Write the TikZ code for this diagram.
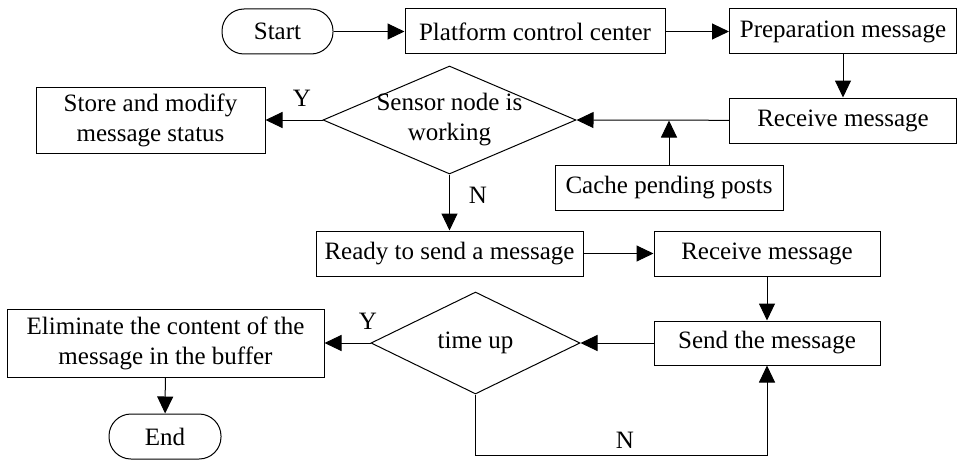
\documentclass[tikz,border=0pt]{standalone}
\usepackage{fontspec}
\setmainfont{Liberation Serif}
\usetikzlibrary{shapes.geometric,arrows.meta}
\begin{document}
\begin{tikzpicture}[x=1pt,y=-1pt,
  box/.style={draw, line width=1pt, inner sep=0pt, align=center, minimum height=45pt},
  term/.style={box, rounded corners=22pt},
  diam/.style={draw, line width=1pt, diamond, inner sep=0pt},
  arr/.style={line width=1pt, -{Triangle[length=17pt,width=16pt]}},
  lbl/.style={inner sep=0pt},
  font=\fontsize{25}{30}\selectfont]
\useasboundingbox (0,0) rectangle (958,460);
% row 1
\node[term, minimum width=111pt] (start) at (277.5,31.5) {Start};
\node[box, minimum width=260pt] (pcc) at (535,31.5) {Platform control center};
\node[box, minimum width=227pt] (prep) at (843,31.5) {Preparation message};
% row 2
\node[box, minimum width=227pt] (recv1) at (843,120.5) {Receive message};
\node[diam, minimum width=253pt, minimum height=108pt] (sensor) at (449.5,120) {};
\node[lbl, align=center] at (sensor.center) {Sensor node is\\working};
\node[box, minimum width=229pt, minimum height=66pt] (store) at (150.5,120) {Store and modify\\message status};
\node[box, minimum width=228pt] (cache) at (669,187.5) {Cache pending posts};
% row 3
\node[box, minimum width=267pt] (ready) at (449.5,253.5) {Ready to send a message};
\node[box, minimum width=226pt] (recv2) at (767,253.5) {Receive message};
% row 4
\node[box, minimum width=226pt, minimum height=44pt] (send) at (767,343) {Send the message};
\node[diam, minimum width=209pt, minimum height=102pt] (timeup) at (475.5,343) {};
\node[lbl] at (timeup.center) {time up};
\node[box, minimum width=317pt, minimum height=68pt] (elim) at (165.5,343) {Eliminate the content of the\\message in the buffer};
\node[term, minimum width=112pt] (end) at (165,436.5) {End};
\coordinate (loopc) at (767,455);
% connectors
\draw[arr] (start) -- (pcc);
\draw[arr] (pcc) -- (prep);
\draw[arr] (prep) -- (recv1);
\draw[arr] (recv1) -- (sensor.east);
\draw[arr] (cache.north) -- (cache.north |- recv1.west);
\draw[arr] (sensor.west) -- (store);
\draw[arr] (sensor.south) -- (ready);
\draw[arr] (ready) -- (recv2);
\draw[arr] (recv2) -- (send);
\draw[arr] (send) -- (timeup.east);
\draw[arr] (timeup.west) -- (elim);
\draw[arr] (elim) -- (end);
\draw[arr] (timeup.south) |- (loopc) -- (send.south);
% labels
\node[lbl] at (302,98) {Y};
\node[lbl] at (478,195) {N};
\node[lbl] at (368,321) {Y};
\node[lbl] at (625,440) {N};
\end{tikzpicture}
\end{document}
